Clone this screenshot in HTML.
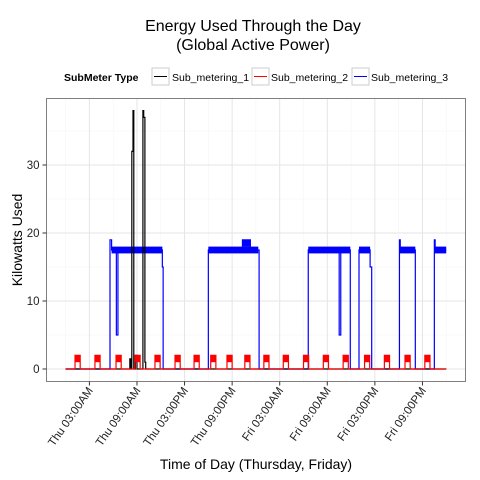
<!DOCTYPE html>
<html><head><meta charset="utf-8"><style>
body{margin:0;background:#fff}
svg{font-family:"Liberation Sans",Arial,sans-serif;display:block}
</style></head><body>
<svg id="c" width="480" height="480" viewBox="0 0 480 480">
<text x="253" y="31" text-anchor="middle" font-size="16" fill="#000">Energy Used Through the Day</text>
<text x="253" y="50" text-anchor="middle" font-size="16" fill="#000">(Global Active Power)</text>
<g>
<text x="64" y="81" font-size="10.5" font-weight="bold">SubMeter Type</text>
<g><rect x="152" y="68" width="17" height="17" fill="#fff" stroke="#ccc"/><line x1="154" y1="76.5" x2="167" y2="76.5" stroke="#000"/><text x="172" y="81" font-size="10.5">Sub_metering_1</text></g>
<g><rect x="252" y="68" width="17" height="17" fill="#fff" stroke="#ccc"/><line x1="254" y1="76.5" x2="267" y2="76.5" stroke="#f00"/><text x="271" y="81" font-size="10.5">Sub_metering_2</text></g>
<g><rect x="352" y="68" width="17" height="17" fill="#fff" stroke="#ccc"/><line x1="354" y1="76.5" x2="367" y2="76.5" stroke="#00f"/><text x="371" y="81" font-size="10.5">Sub_metering_3</text></g>
</g>
<g id="grid"></g>
<g id="marks"></g>
<rect x="46.5" y="98.5" width="419" height="283" fill="none" stroke="#7f7f7f"/>
<g id="axes"></g>
<text x="0" y="0" transform="translate(22,240) rotate(-90)" text-anchor="middle" font-size="14">Kilowatts Used</text>
<text x="256" y="469" text-anchor="middle" font-size="14">Time of Day (Thursday, Friday)</text>
</svg>
<script>
// data (hours from Thu 00:00)
const xTickHours = [3, 9, 15, 21, 27, 33, 39, 45];
const xTickLabels = ["Thu 03:00AM","Thu 09:00AM","Thu 03:00PM","Thu 09:00PM","Fri 03:00AM","Fri 09:00AM","Fri 03:00PM","Fri 09:00PM"];
const yTicks = [0, 10, 20, 30];
const sub3Times = [0, 5.6, 5.8, 6.4, 6.6, 12.2, 12.3, 18.0, 22.3, 23.3, 24.4, 30.6, 34.5, 34.7, 35.9, 37.0, 38.4, 38.6, 42.1, 42.2, 44.1, 46.5, 46.6, 48];
const sub3Values = [0, 19, 17.5, 5, 17.5, 15, 0, 17.5, 19, 17.5, 0, 17.5, 5, 17.5, 0, 17.5, 15, 0, 19, 17.5, 0, 19, 17.5, 17.5];
const sub3BandStart = [5.8, 18.0, 30.6, 37.0, 42.1, 46.5, 22.3];
const sub3BandEnd = [12.2, 24.3, 35.9, 38.4, 44.1, 48, 23.3];
const sub3BandLow = [17, 17, 17, 17, 17, 17, 18];
const sub3BandHigh = [18, 18, 18, 18, 18, 18, 19];
const sub1Times = [0, 8.1, 8.25, 8.35, 8.5, 8.6, 8.8, 9.0, 9.75, 9.85, 10.0, 10.1, 48];
const sub1Values = [0, 1.5, 0, 32, 38, 0, 2, 0, 38, 37, 1, 0, 0];
const sub2PulseTimes = [1.19, 3.7, 6.36, 8.75, 11.27, 13.8, 16.2, 18.3, 20.35, 22.6, 25.0, 27.45, 30.0, 32.5, 35.0, 37.7, 40.2, 42.8, 45.3];
const sub2PulseHigh = [2, 2, 2, 2, 2, 2, 2, 2, 2, 2, 2, 2, 2, 2, 2, 2, 2, 2, 2];
const sub2PulseLow = [1, 1, 1, 1, 1, 1, 1, 1, 1, 1, 1, 1, 1, 1, 1, 1, 1, 1, 1];

const NS = "http://www.w3.org/2000/svg";
const L = 46.5, R = 465.5, T = 98.5, B = 381.5;
const X = h => 65.6 + h * 7.93;
const Y = v => 369 - v * 6.8;
function el(tag, attrs, parent) {
  const e = document.createElementNS(NS, tag);
  for (const k in attrs) e.setAttribute(k, attrs[k]);
  parent.appendChild(e); return e;
}
const grid = document.getElementById('grid'), marks = document.getElementById('marks'), axes = document.getElementById('axes');
el('rect', {x: L, y: T, width: R - L, height: B - T, fill: '#fff'}, grid);
for (let i = 0; i <= xTickHours.length; i++) {
  const x = X(xTickHours[0] - 3 + i * 6);
  if (x > L && x < R) el('line', {x1: x, x2: x, y1: T, y2: B, stroke: '#f5f5f5', 'stroke-width': 0.6}, grid);
}
for (let i = 0; i < yTicks.length; i++) {
  const y = Y(yTicks[i] + 5);
  el('line', {x1: L, x2: R, y1: y, y2: y, stroke: '#f5f5f5', 'stroke-width': 0.6}, grid);
}
xTickHours.forEach((h, i) => {
  const x = X(h);
  const g = el('line', {x1: x, x2: x, y1: T, y2: B, stroke: '#e5e5e5', 'stroke-width': 1}, grid);
  
  
  el('line', {x1: x, x2: x, y1: B, y2: B + 4, stroke: '#333'}, axes);
  const lab = el('text', {transform: `translate(${x + 4},${B + 9}) rotate(-55)`, 'text-anchor': 'end', 'font-size': 11.5, fill: '#222'}, axes);
  lab.textContent = xTickLabels[i];
  
  
});
yTicks.forEach(v => {
  const y = Y(v);
  el('line', {x1: L, x2: R, y1: y, y2: y, stroke: '#e5e5e5', 'stroke-width': 1}, grid);
  el('line', {x1: L - 4, x2: L, y1: y, y2: y, stroke: '#333'}, axes);
  const lab = el('text', {x: L - 7, y: y + 4, 'text-anchor': 'end', 'font-size': 11.5, fill: '#222'}, axes);
  lab.textContent = v;
  
  
});
function stepPath(ts, vs) {
  let d = `M${X(ts[0])},${Y(vs[0])}`;
  for (let i = 1; i < ts.length; i++) d += `H${X(ts[i])}V${Y(vs[i])}`;
  return d;
}
const p3 = el('path', {d: stepPath(sub3Times, sub3Values), fill: 'none', stroke: '#00f', 'stroke-width': 1.2}, marks);


sub3BandStart.forEach((s, i) => {
  const r = el('rect', {x: X(s), y: Y(sub3BandHigh[i]), width: X(sub3BandEnd[i]) - X(s), height: Y(sub3BandLow[i]) - Y(sub3BandHigh[i]), fill: '#00f'}, marks);
  
  
});
const p1 = el('path', {d: stepPath(sub1Times, sub1Values), fill: 'none', stroke: '#000', 'stroke-width': 1.2}, marks);


let d2 = `M${X(0)},${Y(0)}`;
const w = 0.65;
sub2PulseTimes.forEach((t, i) => {
  const e = Math.min(t + w, 48);
  d2 += `H${X(t)}V${Y(sub2PulseHigh[i])}H${X(e)}V${Y(0)}`;
});
d2 += `H${X(48)}`;
const p2 = el('path', {d: d2, fill: 'none', stroke: '#f00', 'stroke-width': 1.2}, marks);


sub2PulseTimes.forEach((t, i) => {
  const e = Math.min(t + w, 48);
  const r = el('rect', {x: X(t), y: Y(sub2PulseHigh[i]), width: X(e) - X(t), height: Y(sub2PulseLow[i]) - Y(sub2PulseHigh[i]), fill: '#f00'}, marks);
  
  
});
</script>
</body></html>
